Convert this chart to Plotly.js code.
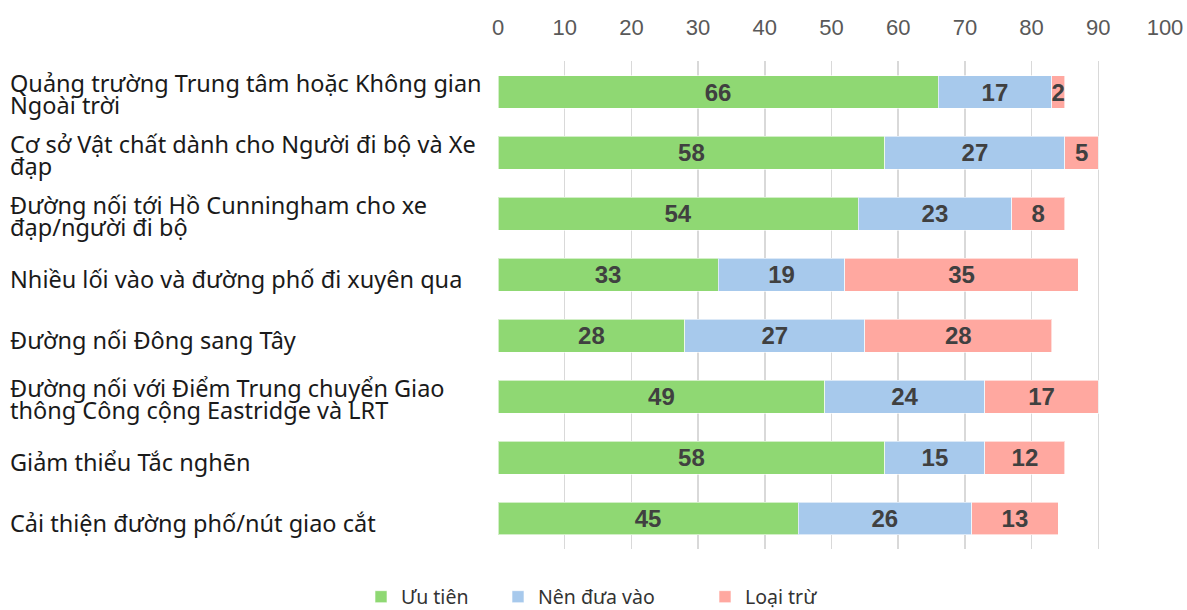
<!DOCTYPE html>
<html>
<head>
<meta charset="utf-8">
<script src="https://cdn.plot.ly/plotly-3.0.1.min.js"></script>
<style>html,body{margin:0;padding:0;background:#fff;}#chart{width:1187px;height:610px;}</style>
</head>
<body>
<div id="chart"></div>
<script>
const categories = [
  "Quảng trường Trung tâm hoặc Không gian<br>Ngoài trời",
  "Cơ sở Vật chất dành cho Người đi bộ và Xe<br>đạp",
  "Đường nối tới Hồ Cunningham cho xe<br>đạp/người đi bộ",
  "Nhiều lối vào và đường phố đi xuyên qua",
  "Đường nối Đông sang Tây",
  "Đường nối với Điểm Trung chuyển Giao<br>thông Công cộng Eastridge và LRT",
  "Giảm thiểu Tắc nghẽn",
  "Cải thiện đường phố/nút giao cắt"
];
const seriesNames = ["Ưu tiên", "Nên đưa vào", "Loại trừ"];
const uuTien = [66, 58, 54, 33, 28, 49, 58, 45];
const nenDuaVao = [17, 27, 23, 19, 27, 24, 15, 26];
const loaiTru = [2, 5, 8, 35, 28, 17, 12, 13];
const xTicks = [0, 10, 20, 30, 40, 50, 60, 70, 80, 90, 100];

const colors = ["#8fd873", "#a7c9ec", "#ffa8a0"];
const values = [uuTien, nenDuaVao, loaiTru];
const legendIds = ["legend", "legend2", "legend3"];
const legendSquareCenters = [381, 518, 725];

const traces = values.map((v, i) => ({
  type: "bar",
  orientation: "h",
  name: seriesNames[i],
  legend: legendIds[i],
  x: v,
  y: categories,
  text: v.map(String),
  textposition: "inside",
  insidetextanchor: "middle",
  textangle: 0,
  constraintext: "none",
  textfont: {family: "Liberation Sans, Arial, sans-serif", size: 24, color: "#404040", weight: "bold"},
  marker: {color: colors[i], line: {color: "rgba(255,255,255,0.6)", width: 1}},
  hoverinfo: "skip"
}));

const annotations = [];
categories.forEach(c => {
  const lines = c.split("<br>");
  const shifts = lines.length === 1 ? [-4] : [9, -13];
  lines.forEach((ln, k) => {
    annotations.push({
      xref: "paper", yref: "y",
      x: -0.7346, y: c,
      xanchor: "left", yanchor: "middle",
      text: ln, showarrow: false,
      yshift: shifts[k],
      font: {family: "Noto Sans, sans-serif", size: 23.5, color: "#1a1a1a"}
    });
  });
});

const plotL = 498, plotW = 667;
const layout = {
  width: 1187, height: 610,
  margin: {l: 498, r: 22, t: 61, b: 61, pad: 0, autoexpand: false},
  paper_bgcolor: "#ffffff", plot_bgcolor: "#ffffff",
  barmode: "stack",
  bargap: 0.46,
  showlegend: true,
  xaxis: {
    side: "top", range: [0, 100], tickvals: xTicks, ticktext: xTicks.map(String),
    showgrid: true, gridcolor: "#d9d9d9", gridwidth: 1.5, zeroline: false,
    showline: false, ticks: "", ticklabelstandoff: 21,
    tickfont: {family: "Liberation Sans, Arial, sans-serif", size: 22, color: "#595959"},
    fixedrange: true
  },
  yaxis: {
    autorange: "reversed", showticklabels: false, showgrid: false, zeroline: false,
    ticks: "", showline: false, fixedrange: true
  },
  annotations: annotations
};
legendIds.forEach((id, i) => {
  layout[id] = {
    orientation: "h",
    x: (legendSquareCenters[i] - 20 - plotL) / plotW, xanchor: "left",
    y: -(597 - 549) / 488, yanchor: "middle",
    font: {family: "Noto Sans, sans-serif", size: 19.5, color: "#333333"},
    bgcolor: "rgba(0,0,0,0)"
  };
});

Plotly.newPlot("chart", traces, layout, {displayModeBar: false, staticPlot: true});
</script>
</body>
</html>
